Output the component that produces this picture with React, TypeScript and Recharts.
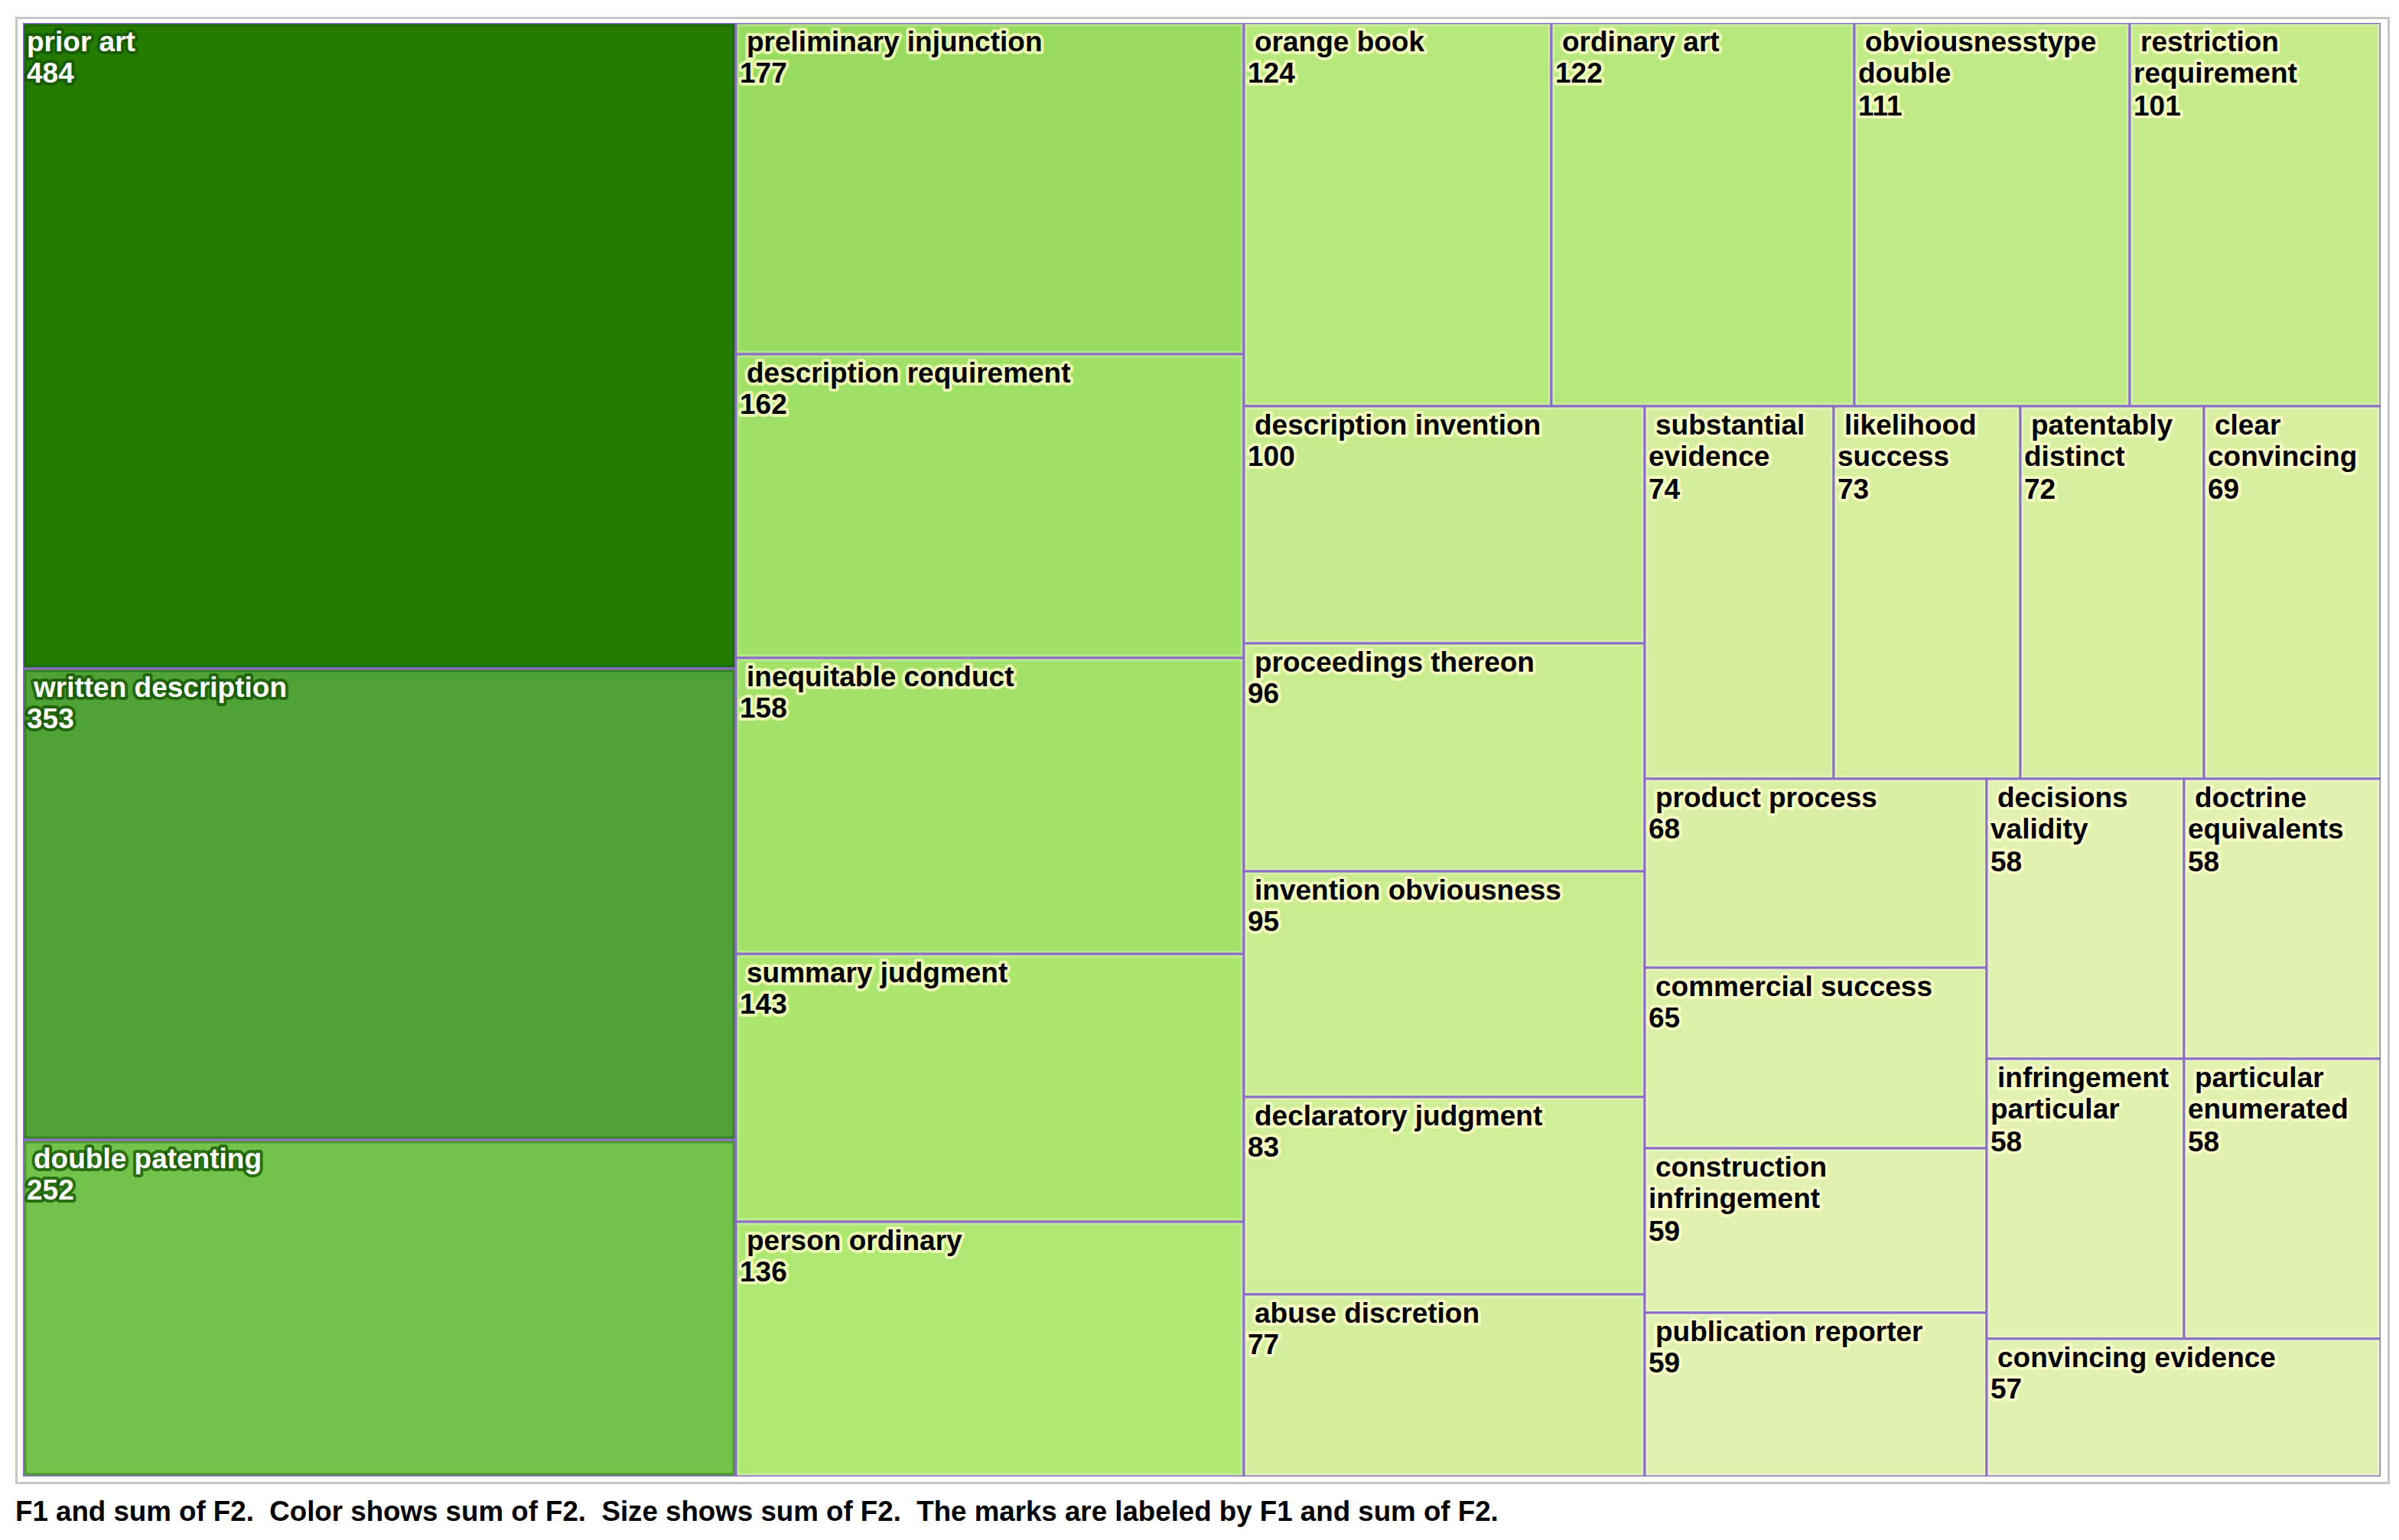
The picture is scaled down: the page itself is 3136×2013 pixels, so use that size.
import React from 'react';
import { Treemap } from 'recharts';

// ---------------- data ----------------
const termNames: string[] = [
  'prior art',
  'written description',
  'double patenting',
  'preliminary injunction',
  'description requirement',
  'inequitable conduct',
  'summary judgment',
  'person ordinary',
  'orange book',
  'ordinary art',
  'obviousnesstype double',
  'restriction requirement',
  'description invention',
  'proceedings thereon',
  'invention obviousness',
  'declaratory judgment',
  'abuse discretion',
  'substantial evidence',
  'likelihood success',
  'patentably distinct',
  'clear convincing',
  'product process',
  'commercial success',
  'construction infringement',
  'publication reporter',
  'decisions validity',
  'doctrine equivalents',
  'infringement particular',
  'particular enumerated',
  'convincing evidence',
];

const sumF2: number[] = [
  484, 353, 252, 177, 162, 158, 143, 136, 124, 122, 111, 101, 100, 96, 95, 83, 77,
  74, 73, 72, 69, 68, 65, 59, 59, 58, 58, 58, 58, 57,
];

const captionText =
  'F1 and sum of F2.  Color shows sum of F2.  Size shows sum of F2.  The marks are labeled by F1 and sum of F2.';

const treeData = termNames.map((name, i) => ({ name, value: sumF2[i] }));

// ---------------- styles ----------------
const FONT_FAMILY = '"Liberation Sans", Arial, sans-serif';
const FONT_SIZE = 37;
const CAPTION_FONT_SIZE = 36.7;
const LINE_H = 41;
const FIRST_BASELINE = 37;
const NAME_INDENT = 14;
const VALUE_INDENT = 5;
const BORDER = '#8C6CC8';

// colour ramp (value -> colour), Tableau-like sequential green
const colorStops: [number, [number, number, number]][] = [
  [57, [0xe1, 0xf1, 0xb1]],
  [69, [0xd8, 0xef, 0xa2]],
  [77, [0xd3, 0xee, 0x9c]],
  [100, [0xc6, 0xeb, 0x8c]],
  [124, [0xb6, 0xe8, 0x7c]],
  [143, [0xab, 0xe6, 0x6e]],
  [162, [0xa1, 0xe0, 0x66]],
  [177, [0x98, 0xdb, 0x5e]],
  [252, [0x72, 0xc2, 0x4c]],
  [353, [0x4f, 0xa2, 0x36]],
  [484, [0x23, 0x7c, 0x00]],
];

function colorFor(v: number): string {
  let c = colorStops[0][1];
  if (v >= colorStops[colorStops.length - 1][0]) {
    c = colorStops[colorStops.length - 1][1];
  } else {
    for (let i = 0; i < colorStops.length - 1; i++) {
      const [a, ca] = colorStops[i];
      const [b, cb] = colorStops[i + 1];
      if (v >= a && v <= b) {
        const t = (v - a) / (b - a);
        c = [0, 1, 2].map((k) => Math.round(ca[k] + (cb[k] - ca[k]) * t)) as [number, number, number];
        break;
      }
    }
  }
  return `rgb(${c[0]},${c[1]},${c[2]})`;
}

let measureCtx: CanvasRenderingContext2D | null = null;
function textWidth(s: string): number {
  if (!measureCtx && typeof document !== 'undefined') {
    measureCtx = document.createElement('canvas').getContext('2d');
  }
  if (!measureCtx) return s.length * FONT_SIZE * 0.55;
  measureCtx.font = `bold ${FONT_SIZE}px ${FONT_FAMILY}`;
  return measureCtx.measureText(s).width;
}

function wrapName(name: string, width: number, indent: number): string[] {
  const words = name.split(' ');
  const lines: string[] = [];
  let cur = '';
  for (const w of words) {
    const cand = cur ? cur + ' ' + w : w;
    const avail = (lines.length === 0 ? width - indent : width - VALUE_INDENT) - 6;
    if (cur && textWidth(cand) > avail) {
      lines.push(cur);
      cur = w;
    } else {
      cur = cand;
    }
  }
  if (cur) lines.push(cur);
  return lines;
}

const CellContent = (props: any) => {
  const { x, y, width, height, depth, name, value, index } = props;
  if (depth !== 1 || width == null) return <g />;
  const fill = colorFor(value);
  const darkCell = value > 200;
  const textFill = darkCell ? '#ffffff' : '#000000';
  const halo = darkCell ? '#145400' : '#ffffcc';
  const firstIndent = index === 0 ? VALUE_INDENT : NAME_INDENT;
  const lines = wrapName(String(name), width, firstIndent);
  const common = {
    fontFamily: FONT_FAMILY,
    fontSize: FONT_SIZE,
    fontWeight: 700,
    fill: textFill,
    stroke: halo,
    strokeWidth: 8,
    strokeOpacity: 0.75,
    strokeLinejoin: 'round' as const,
    paintOrder: 'stroke' as const,
  };
  return (
    <g>
      <rect x={x} y={y} width={width} height={height} fill={fill} stroke={BORDER} strokeWidth={3} />
      <rect
        x={x + 3}
        y={y + 3}
        width={Math.max(0, width - 6)}
        height={Math.max(0, height - 6)}
        fill="none"
        stroke={darkCell ? '#0a4a00' : '#ffffff'}
        strokeOpacity={darkCell ? 0.35 : 0.25}
        strokeWidth={3}
      />
      {lines.map((l, i) => (
        <text key={i} x={x + (i === 0 ? firstIndent : VALUE_INDENT)} y={y + FIRST_BASELINE + i * LINE_H} {...common}>
          {l}
        </text>
      ))}
      <text x={x + VALUE_INDENT} y={y + FIRST_BASELINE + lines.length * LINE_H + (lines.length > 1 ? 2 : 0)} {...common}>
        {value}
      </text>
    </g>
  );
};

export default function App() {
  return (
    <div style={{ position: 'relative', width: 3120, height: 1997, background: '#fff' }}>
      <div
        style={{
          position: 'absolute',
          left: 12,
          top: 14,
          width: 3104,
          height: 1918,
          boxSizing: 'border-box',
          border: '3px solid #c6c6c6',
        }}
      />
      <div style={{ position: 'absolute', left: 22, top: 22 }}>
        <Treemap
          width={3082}
          height={1900}
          data={treeData}
          dataKey="value"
          nameKey="name"
          aspectRatio={(1 + Math.sqrt(5)) / 2}
          isAnimationActive={false}
          content={CellContent as any}
        />
      </div>
      <div
        style={{
          position: 'absolute',
          left: 12,
          top: 1948,
          fontFamily: FONT_FAMILY,
          fontSize: CAPTION_FONT_SIZE,
          fontWeight: 700,
          lineHeight: '40px',
          whiteSpace: 'pre',
          color: '#000',
        }}
      >
        {captionText}
      </div>
    </div>
  );
}
